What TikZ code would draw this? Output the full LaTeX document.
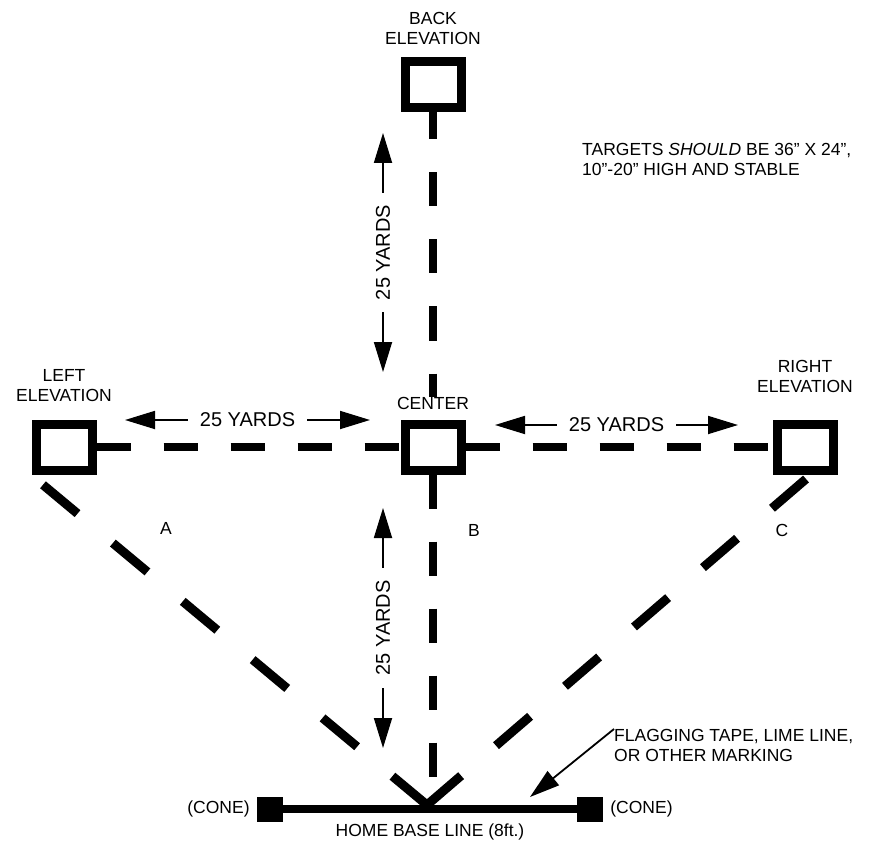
\documentclass[tikz,border=0pt]{standalone}
\usepackage{fontspec}
\setmainfont{Liberation Sans}
\usetikzlibrary{positioning,arrows.meta}

\begin{document}
\begin{tikzpicture}[x=1pt,y=-1pt,
  target/.style={draw,line width=9pt,minimum width=56pt,minimum height=46pt,inner sep=0pt,outer sep=4.5pt},
  cone/.style={fill,minimum width=26pt,minimum height=25pt,inner sep=0pt},
  lbl/.style={inner sep=0pt,align=center,font=\fontsize{17.5}{20}\selectfont},
  yards/.style={fill=white,inner xsep=12pt,inner ysep=2pt,font=\fontsize{20}{24}\selectfont},
  tline/.style={line width=8.5pt,dash pattern=on 34pt off 33pt},
  dline/.style={line width=9pt,dash pattern=on 45pt off 46pt},
  dim/.style={line width=1.8pt,{Triangle[length=30pt,width=18pt]}-{Triangle[length=30pt,width=18pt]}}]
\useasboundingbox (0,0) rectangle (870,850);
\node[target] (center) at (433,447) {};
\node[target, above=307pt of center] (back) {};
\node[target, left=304pt of center] (left) {};
\node[target, right=307pt of center] (right) {};
\node[lbl, above=10pt of center] (centerlbl) {CENTER};
\node[lbl, above=13pt of back] (backlbl) {BACK\\ELEVATION};
\node[lbl, above=18pt of left] (leftlbl) {LEFT\\ELEVATION};
\node[lbl, above=27pt of right] (rightlbl) {RIGHT\\ELEVATION};
\node[cone] (lcone) at (270,809) {};
\node[cone] (rcone) at (590,809) {};
\draw[line width=8pt] (lcone) -- (rcone);
\coordinate (apex) at (427,805);
\coordinate (lfoot) at (42,484);
\coordinate (rfoot) at (806,479);
\node[lbl, left=7pt of lcone] (lconelbl) {(CONE)};
\node[lbl, right=7pt of rcone] (rconelbl) {(CONE)};
\node[lbl] (baselbl) at (430,832) {HOME BASE LINE (8ft.)};
\draw[tline, dash phase=7pt] (back.south) -- (centerlbl.north);
\draw[tline] (left) -- (center);
\draw[tline] (center) -- (right);
\draw[tline] (center.south) -- (center.south |- apex);
\draw[dline] (apex) -- (lfoot);
\draw[dline] (apex) -- (rfoot);
\node[lbl] (a) at (166,528) {A};
\node[lbl] (b) at (474,530) {B};
\node[lbl] (c) at (782,530) {C};
\coordinate (u1) at (383,133);
\coordinate (u2) at (383,372);
\coordinate (d1) at (383,508);
\coordinate (d2) at (383,748);
\coordinate (l1) at (125,420);
\coordinate (l2) at (370,420);
\coordinate (r1) at (495,425);
\coordinate (r2) at (738,425);
\draw[dim] (u1) -- node[yards, rotate=90] {25 YARDS} (u2);
\draw[dim] (d1) -- node[yards, rotate=90] {25 YARDS} (d2);
\draw[dim] (l1) -- node[yards] {25 YARDS} (l2);
\draw[dim] (r1) -- node[yards] {25 YARDS} (r2);
\node[lbl, align=left, anchor=north west] (note) at (582,143) {TARGETS \textit{SHOULD} BE 36" X 24",\\10"-20" HIGH AND STABLE};
\node[lbl, align=left, anchor=north west] (flag) at (614,729) {FLAGGING TAPE, LIME LINE,\\OR OTHER MARKING};
\coordinate (flagtip) at (530,797);
\draw[line width=1.8pt, -{Triangle[length=30pt,width=18pt]}] (flag.north west) -- (flagtip);
\end{tikzpicture}
\end{document}
